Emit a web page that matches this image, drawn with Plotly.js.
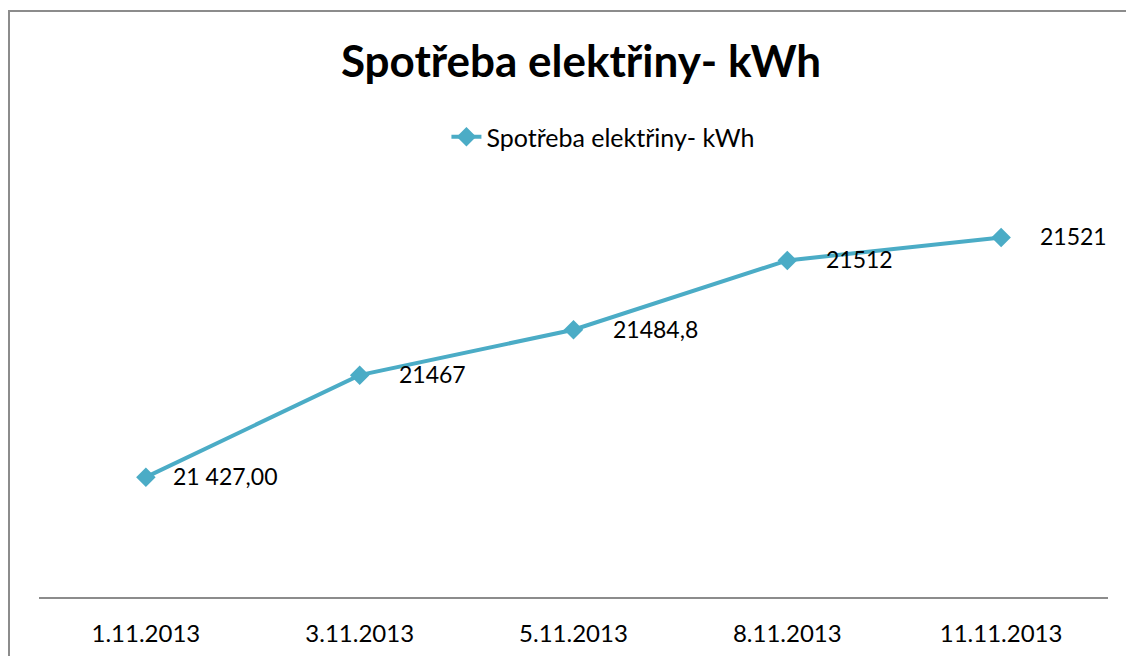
<!DOCTYPE html>
<html>
<head>
<meta charset="utf-8">
<script src="https://cdn.plot.ly/plotly-3.0.1.min.js"></script>
<style>
  html, body { margin: 0; padding: 0; background: #fff; }
  #wrap { position: relative; width: 1126px; height: 656px; overflow: hidden; }
  #chart { width: 1126px; height: 656px; }
  #frame { position: absolute; left: 8px; top: 10px; width: 1200px; height: 700px;
           border-left: 2px solid #8c8c8c; border-top: 2px solid #8c8c8c; pointer-events: none; }
</style>
</head>
<body>
<div id="wrap">
  <div id="chart"></div>
  <div id="frame"></div>
</div>
<script>
const categories = ["1.11.2013", "3.11.2013", "5.11.2013", "8.11.2013", "11.11.2013"];
const values = [21427, 21467, 21484.8, 21512, 21521];
const valueLabels = ["21 427,00", "21467", "21484,8", "21512", "21521"];
const seriesName = "Spotřeba elektřiny- kWh";
const chartTitle = "Spotřeba elektřiny- kWh";

const FONT = "Lato, 'Open Sans', sans-serif";
const COLOR = "#4bacc6";

const trace = {
  type: "scatter",
  mode: "lines+markers",
  x: categories,
  y: values,
  name: seriesName,
  line: { color: COLOR, width: 4 },
  marker: { symbol: "diamond", size: 15, color: COLOR },
  cliponaxis: false,
  hoverinfo: "x+y"
};

const annotations = categories.map((c, i) => ({
  x: c,
  y: values[i],
  xref: "x",
  yref: "y",
  text: valueLabels[i],
  showarrow: false,
  xanchor: "left",
  yanchor: "middle",
  xshift: i === 0 ? 25 : 37,
  yshift: 1,
  font: { family: FONT, size: 23, color: "#000" }
}));

const layout = {
  width: 1126,
  height: 656,
  margin: { l: 39, r: 18, t: 189, b: 59 },
  paper_bgcolor: "#fff",
  plot_bgcolor: "#fff",
  title: {
    text: "<b>" + chartTitle + "</b>",
    font: { family: FONT, size: 44, color: "#000" },
    x: 0.516, xanchor: "center",
    y: 1 - 62 / 656, yanchor: "middle"
  },
  showlegend: true,
  legend: {
    x: 0.528, xanchor: "center",
    y: (597 - 137) / 408, yanchor: "middle",
    orientation: "h",
    font: { family: FONT, size: 25, color: "#000" },
    bgcolor: "rgba(0,0,0,0)"
  },
  annotations: annotations,
  xaxis: {
    type: "category",
    range: [-0.5, categories.length - 0.5],
    showline: true,
    linecolor: "#8c8c8c",
    linewidth: 2,
    showgrid: false,
    zeroline: false,
    ticks: "",
    tickfont: { family: FONT, size: 24, color: "#000" },
    ticklabelstandoff: 14
  },
  yaxis: {
    range: [21380, 21540],
    showgrid: false,
    zeroline: false,
    showline: false,
    showticklabels: false,
    ticks: ""
  }
};

Plotly.newPlot("chart", [trace], layout, { displayModeBar: false, staticPlot: true });
</script>
</body>
</html>
